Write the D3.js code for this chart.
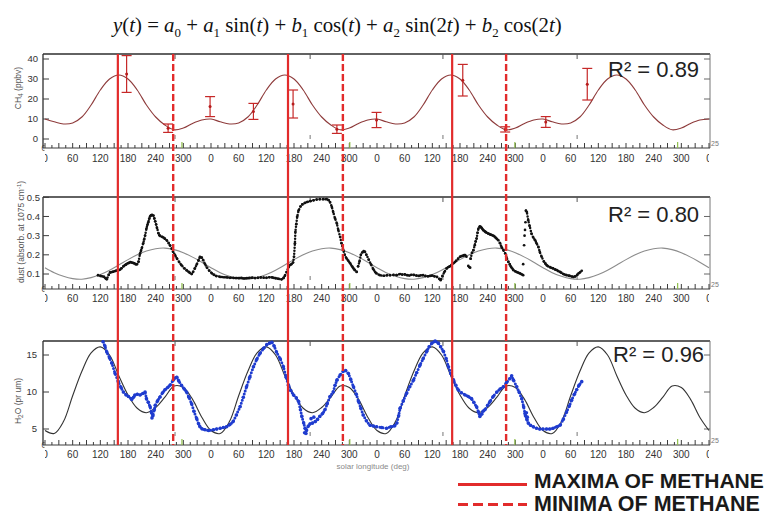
<!DOCTYPE html>
<html>
<head>
<meta charset="utf-8">
<script src="https://cdn.jsdelivr.net/npm/d3@7"></script>
<style>
  html, body { margin: 0; padding: 0; background: #fff; }
  svg { display: block; }
  text { font-family: "Liberation Sans", Arial, sans-serif; }
</style>
</head>
<body>
<svg id="chart" width="770" height="515"></svg>
<script>
// ---------- data (solar longitude Ls in degrees, counted over four Mars years) ----------
const xTickLs = d3.range(0, 1441, 60);

// one Mars year of each two-harmonic fit, sampled every 20 deg of Ls
const fitLs   = d3.range(0, 361, 20);
const ch4Fit  = [10, 8.6, 7.5, 8.0, 11, 17, 24.5, 30, 32, 30, 24.5, 17, 11, 7, 4.6, 5.5, 7.8, 9.5, 10];
const dustFit = [0.133, 0.107, 0.088, 0.076, 0.073, 0.081, 0.097, 0.120, 0.147, 0.175, 0.200, 0.220, 0.232, 0.235, 0.227, 0.211, 0.188, 0.161, 0.133];
const h2oFit  = [4.8, 4.4, 6.0, 9.5, 12.8, 15.3, 16.1, 15.0, 12.2, 9.6, 7.8, 7.2, 7.9, 9.3, 10.8, 10.6, 9.0, 6.6, 4.8];

// methane measurements (ppbv) with their uncertainties
const ch4Ls  = [177, 267, 358, 452, 538, 633, 719, 906, 998, 1086, 1176];
const ch4Val = [32.5, 5.4, 16.2, 13.8, 17.5, 4.9, 9.5, 29.4, 4.8, 8.5, 27.4];
const ch4Err = [9.2, 2.1, 5.0, 4.0, 7.0, 2.1, 3.8, 7.9, 1.3, 2.7, 7.9];

// Ls of the fitted methane maxima and minima
const methaneMaxLs = [158, 527, 883];
const methaneMinLs = [278, 646, 1000];

// dust opacity (absorbance at 1075 cm-1); null separates observing periods
const dustObs = [
  [115,0.094],[120,0.09],[124,0.088],[128,0.085],[131,0.078],[134,0.072],[138,0.095],[141,0.108],[145,0.11],[148,0.112],
  [152,0.115],[155,0.118],[159,0.12],[163,0.123],[166,0.13],[170,0.14],[173,0.146],[176,0.15],[179,0.155],[182,0.158],
  [185,0.162],[188,0.16],[191,0.158],[194,0.155],[197,0.15],[200,0.152],[203,0.165],[206,0.205],[208,0.22],[210,0.235],
  [213,0.26],[215,0.28],[217,0.3],[220,0.337],[222,0.355],[224,0.37],[226,0.388],[228,0.401],[230,0.406],[232,0.408],
  [235,0.405],[237,0.39],[239,0.375],[241,0.358],[243,0.34],[246,0.312],[248,0.302],[250,0.298],[254,0.294],[257,0.29],
  [260,0.284],[264,0.276],[268,0.262],[271,0.25],[275,0.232],[278,0.215],[282,0.198],[286,0.181],[291,0.162],[296,0.146],
  [302,0.13],[307,0.12],[311,0.112],[314,0.106],[318,0.1],[321,0.11],[325,0.129],[329,0.15],[333,0.172],[336,0.19],
  [340,0.185],[343,0.172],[347,0.152],[351,0.134],[356,0.118],[362,0.103],[367,0.095],[372,0.089],[380,0.085],[387,0.083],
  [394,0.082],[401,0.08],[408,0.08],[414,0.079],[420,0.078],[426,0.08],[432,0.077],[438,0.079],[444,0.08],[450,0.081],
  [456,0.079],[462,0.08],[468,0.082],[474,0.081],[480,0.08],[486,0.083],[492,0.082],[496,0.08],[500,0.078],[504,0.076],
  [508,0.074],[513,0.072],[517,0.078],[520,0.09],[524,0.11],[528,0.135],[531,0.146],[535,0.152],[538,0.16],[540,0.19],
  [542,0.26],[543,0.32],[545,0.36],[547,0.4],[550,0.432],[554,0.452],[558,0.463],[563,0.47],[568,0.475],[575,0.48],
  [582,0.484],[589,0.488],[596,0.49],[604,0.49],[611,0.49],[615,0.485],[618,0.475],[622,0.45],[625,0.423],[629,0.39],
  [633,0.363],[636,0.33],[640,0.293],[643,0.26],[647,0.224],[650,0.2],[654,0.181],[658,0.168],[662,0.155],[666,0.14],
  [669,0.129],[672,0.12],[676,0.111],
  null,
  [679,0.14],[682,0.165],[685,0.2],[688,0.212],[691,0.22],[694,0.215],[697,0.2],[702,0.175],[707,0.15],[712,0.125],
  [716,0.11],[719,0.103],[726,0.094],[734,0.091],[741,0.093],[748,0.094],[756,0.095],[763,0.094],[770,0.1],[775,0.097],
  [780,0.098],[785,0.094],[790,0.092],[795,0.096],[800,0.095],[805,0.092],[810,0.09],[815,0.093],[820,0.094],[825,0.09],
  [830,0.088],[835,0.09],[840,0.092],[845,0.088],[850,0.085],[855,0.075],[858,0.068],[862,0.09],[866,0.11],[871,0.129],
  [874,0.135],[878,0.14],[882,0.148],[885,0.155],[889,0.162],[892,0.17],[896,0.18],[900,0.19],[903,0.193],[906,0.195],
  [909,0.198],[911,0.198],[914,0.19],
  null,
  [923,0.18],[926,0.21],[929,0.224],[932,0.25],[934,0.27],[936,0.285],[938,0.315],[940,0.337],[943,0.348],[945,0.346],
  [947,0.34],[949,0.334],[951,0.328],[954,0.322],[956,0.318],[958,0.315],[961,0.311],[964,0.308],[966,0.305],[969,0.303],
  [972,0.3],[975,0.295],[977,0.29],[980,0.283],[983,0.276],[987,0.26],[990,0.241],[994,0.225],[998,0.207],[1001,0.185],
  [1005,0.163],[1008,0.15],[1010,0.14],[1013,0.13],[1016,0.12],[1020,0.114],[1023,0.11],[1027,0.106],[1030,0.103],[1034,0.098],
  [1037,0.094],
  null,
  [1043,0.43],[1045,0.423],[1048,0.38],[1051,0.35],[1055,0.311],[1059,0.29],[1063,0.276],[1066,0.26],[1070,0.241],[1073,0.215],
  [1077,0.19],[1082,0.165],[1085,0.155],[1088,0.146],[1091,0.14],[1095,0.136],[1098,0.132],[1102,0.129],[1106,0.124],[1110,0.12],
  [1113,0.115],[1117,0.111],[1120,0.106],[1124,0.1],[1127,0.097],[1131,0.094],[1135,0.092],[1138,0.09],[1142,0.087],[1146,0.085],
  [1150,0.088],[1154,0.095],[1157,0.103],[1161,0.11],[1164,0.117]
];
const dustStray = [[918,0.142],[920,0.136],[922,0.133],[1037,0.151],[1039,0.25],[1040,0.3],[1041,0.33],[1042,0.37]];

// water vapour column (pr um)
const h2oObs = [
  [126,16.8],[130,16.2],[134,15.4],[140,14.6],[145,13.9],[152,12.5],[159,11.4],[165,10.6],[170,10.0],[176,9.6],
  [181,9.4],[188,9.0],[192,9.3],[195,9.6],[200,9.7],[206,9.6],[212,9.8],[217,10.0],[220,9.1],[224,8.6],
  [228,8.0],[231,7.2],[234,6.8],[237,7.6],[239,8.2],[244,8.8],[249,9.3],[255,9.9],[260,10.3],[266,10.6],
  [271,10.9],[278,11.6],[282,11.9],[286,12.0],[290,11.5],[296,10.9],[302,10.4],[307,10.0],[312,9.3],[318,8.4],
  [323,7.4],[329,6.4],[333,5.7],[336,5.3],[341,5.0],[347,4.9],[355,4.8],[365,4.9],[372,5.0],[380,5.1],
  [387,5.2],[394,5.3],[401,5.6],[408,6.0],[415,6.9],[423,8.0],[430,9.3],[437,10.7],[444,12.0],[452,13.4],
  [459,14.4],[466,15.2],[474,15.9],[481,16.4],[487,16.6],[492,16.7],[497,16.2],[502,15.4],[510,14.5],[517,13.4],
  [523,12.0],[528,10.9],[533,10.2],[539,9.6],[545,9.2],[550,8.7],[554,7.6],[557,6.7],[561,5.8],[564,5.1],
  [567,4.8],[571,5.4],[575,5.7],[580,5.8],[586,6.0],[591,6.3],[596,6.7],[602,7.1],[607,7.6],[612,8.4],
  [618,9.4],[625,10.0],[629,10.9],[633,11.6],[640,12.3],[647,12.8],[652,12.9],[658,12.5],[663,11.7],[669,10.7],
  [675,9.7],[680,8.7],[685,7.8],[690,6.9],[697,6.1],[705,5.5],[712,5.4],[719,5.3],[730,5.2],[741,5.1],
  [750,5.3],[758,5.4],[763,5.8],[767,6.8],[770,7.8],[777,8.8],[784,9.8],[791,10.7],[799,11.6],[806,12.6],
  [813,13.6],[820,14.5],[828,15.5],[833,16.1],[839,16.6],[846,16.9],[853,16.6],[858,16.1],[864,15.5],[870,14.5],
  [875,13.4],[880,12.5],[886,11.6],[891,10.9],[896,10.3],[903,9.9],[911,9.6],[918,9.4],[925,9.1],[930,8.6],
  [936,8.0],[940,7.3],[943,6.7],[947,7.0],[950,7.4],[954,7.6],[960,8.2],[965,8.7],[972,9.4],[980,10.0],
  [987,10.4],[994,10.7],[1001,11.3],[1008,11.8],[1012,12.2],[1016,11.6],[1023,10.7],[1028,10.0],[1034,9.1],[1038,8.0],
  [1041,7.1],[1045,6.3],[1048,5.8],[1053,5.5],[1059,5.3],[1066,5.1],[1073,5.0],[1080,5.0],[1088,5.0],[1095,5.0],
  [1102,5.1],[1110,5.3],[1117,5.5],[1124,6.3],[1131,7.3],[1137,8.1],[1142,8.9],[1148,9.7],[1153,10.3],[1158,10.9],
  [1164,11.4]
];
const h2oStray = [[232,6.5],[563,4.5],[566,4.4],[1042,6.8],[1044,7.2],[1046,6.6],[577,6.4],[583,6.6]];

// goodness of fit for each panel
const rSquared = [0.89, 0.80, 0.96];

// small secondary marks along the frames
const frameMarkLs = [282, 575, 863, 1154];
const greenMarkLs = [297, 661, 1019, 1372];

// legend entries
const legendLabels = ["MAXIMA OF METHANE", "MINIMA OF METHANE"];

// ---------- layout ----------
const svg = d3.select("#chart");
const RED = "#e22b2b";
const AXIS = "#3c3c3c";
const x = d3.scaleLinear().domain([0, 1440]).range([45, 709]);
const boxL = 43, boxR = 710;

const panels = [
  { top: 54,  bottom: 148, yDomain: [0, 40],     yRange: [139, 59],    labelDy: 13.5,
    ticks: [0, 10, 20, 30, 40], rightTicks: [10, 20, 30, 40], fmt: d => d, tickLabelX: 38,
    r2x: 608, r2y: 77, titleX: 21, titleY: 88 },
  { top: 197, bottom: 289, yDomain: [0.1, 0.5], yRange: [274, 197.3], labelDy: 13,
    ticks: [0.1, 0.2, 0.3, 0.4, 0.5], rightTicks: [0.1, 0.2, 0.3, 0.4], fmt: d3.format(".1f"), tickLabelX: 40,
    r2x: 608, r2y: 222, titleX: 24, titleY: 232 },
  { top: 341, bottom: 445, yDomain: [5, 15],    yRange: [429, 355],   labelDy: 13,
    ticks: [5, 10, 15], rightTicks: [5, 10, 15], fmt: d => d, tickLabelX: 37,
    r2x: 613, r2y: 362, titleX: 21, titleY: 401 }
];
panels.forEach(p => { p.y = d3.scaleLinear().domain(p.yDomain).range(p.yRange); });

// repeat one fitted year across the four years on the axis
function tileYear(vals) {
  const pts = [];
  for (let k = 0; k < 4; k++) {
    fitLs.forEach((ls, i) => {
      if (i === fitLs.length - 1 && k < 3) return;
      pts.push([k * 360 + ls, vals[i]]);
    });
  }
  return pts;
}

const defs = svg.append("defs");
defs.append("clipPath").attr("id", "xlabClip")
  .append("rect").attr("x", 45).attr("y", 0).attr("width", 664).attr("height", 515);
defs.append("clipPath").attr("id", "cornerClip")
  .append("rect").attr("x", 0).attr("y", 0).attr("width", 44.5).attr("height", 515);
defs.append("clipPath").attr("id", "xTitleClip")
  .append("rect").attr("x", 0).attr("y", 464).attr("width", 770).attr("height", 51);

// ---------- title: the fitted function ----------
const titleParts = [
  ["y", "i"], ["(", ""], ["t", "i"], [") = ", ""], ["a", "i"], ["0", "s"], [" + ", ""],
  ["a", "i"], ["1", "s"], [" sin(", ""], ["t", "i"], [") + ", ""],
  ["b", "i"], ["1", "s"], [" cos(", ""], ["t", "i"], [") + ", ""],
  ["a", "i"], ["2", "s"], [" sin(2", ""], ["t", "i"], [") + ", ""],
  ["b", "i"], ["2", "s"], [" cos(2", ""], ["t", "i"], [")", ""]
];
const title = svg.append("text")
  .attr("x", 113).attr("y", 32)
  .style("font-family", "'Liberation Serif', 'Times New Roman', serif")
  .attr("font-size", 22).attr("fill", "#111");
let shifted = false;
titleParts.forEach(([t, k]) => {
  const ts = title.append("tspan").text(t).style("white-space", "pre");
  if (k === "i") ts.attr("font-style", "italic");
  if (k === "s") { ts.attr("font-size", "0.62em").attr("dy", 5); shifted = true; }
  else if (shifted) { ts.attr("dy", -5); shifted = false; }
});
{
  const w = title.node().getComputedTextLength();
  title.attr("font-size", 22 * 449 / w);
}

// ---------- panels ----------
const fits = [tileYear(ch4Fit), tileYear(dustFit), tileYear(h2oFit)];
const fitColors = ["#8e3b3b", "#8c8c8c", "#333333"];
const yTitles = [
  [["CH", ""], ["4", "sub"], [" (ppbv)", ""]],
  [["dust (absorb. at 1075 cm", ""], ["-1", "sup"], [")", ""]],
  [["H", ""], ["2", "sub"], ["O (pr um)", ""]]
];

panels.forEach((p, i) => {
  const g = svg.append("g");
  const y = p.y;

  // frame
  g.append("line").attr("x1", boxL).attr("x2", boxR).attr("y1", p.top).attr("y2", p.top)
    .attr("stroke", "#2e2e2e").attr("stroke-width", 1.4);
  g.append("line").attr("x1", boxL).attr("x2", boxL).attr("y1", p.top).attr("y2", p.bottom)
    .attr("stroke", "#2e2e2e").attr("stroke-width", 1.3);
  g.append("line").attr("x1", boxR).attr("x2", boxR).attr("y1", p.top).attr("y2", p.bottom)
    .attr("stroke", "#777").attr("stroke-width", 1);
  g.append("line").attr("x1", boxL).attr("x2", boxR).attr("y1", p.bottom).attr("y2", p.bottom)
    .attr("stroke", AXIS).attr("stroke-width", 1);

  // bottom axis ticks and labels
  g.selectAll(".xt").data(d3.range(0, 1441, 15)).join("line")
    .attr("x1", d => x(d)).attr("x2", d => x(d))
    .attr("y1", p.bottom).attr("y2", d => p.bottom - (d % 30 === 0 ? 5 : 3))
    .attr("stroke", AXIS).attr("stroke-width", 1);
  g.append("g").attr("clip-path", "url(#xlabClip)")
    .selectAll("text").data(xTickLs).join("text")
    .attr("x", d => x(d)).attr("y", p.bottom + p.labelDy)
    .attr("text-anchor", "middle").attr("font-size", 10).attr("fill", "#333")
    .text(d => d % 360);
  g.append("text").attr("clip-path", "url(#cornerClip)")
    .attr("x", 44).attr("y", p.bottom + 3).attr("text-anchor", "middle")
    .attr("font-size", 9).attr("fill", "#444").text("0");
  g.append("text").attr("x", 711).attr("y", p.bottom - 2)
    .attr("font-size", 7).attr("fill", "#777").text("25");

  // secondary frame marks
  g.selectAll(".fm").data(frameMarkLs).join("line")
    .attr("x1", d => x(d)).attr("x2", d => x(d)).attr("y1", p.top).attr("y2", p.top + 5)
    .attr("stroke", "#555").attr("stroke-width", 1);
  g.selectAll(".fb").data(frameMarkLs).join("line")
    .attr("x1", d => x(d)).attr("x2", d => x(d)).attr("y1", p.bottom - 9).attr("y2", p.bottom - 13)
    .attr("stroke", "#777").attr("stroke-width", 1);
  g.selectAll(".gm").data(greenMarkLs).join("line")
    .attr("x1", d => x(d)).attr("x2", d => x(d)).attr("y1", p.bottom).attr("y2", p.bottom - 6)
    .attr("stroke", "#8fbf4a").attr("stroke-width", 1.2);

  // left axis
  g.selectAll(".yt").data(p.ticks).join("line")
    .attr("x1", boxL).attr("x2", boxL + 6).attr("y1", d => y(d)).attr("y2", d => y(d))
    .attr("stroke", AXIS).attr("stroke-width", 1);
  g.selectAll(".yl").data(p.ticks).join("text")
    .attr("x", p.tickLabelX).attr("y", d => y(d)).attr("dy", "0.35em")
    .attr("text-anchor", "end").attr("font-size", 9.5).attr("fill", "#333")
    .text(p.fmt);
  // right axis
  g.selectAll(".yr").data(p.rightTicks).join("line")
    .attr("x1", boxR).attr("x2", boxR - 6).attr("y1", d => y(d)).attr("y2", d => y(d))
    .attr("stroke", "#666").attr("stroke-width", 1);

  // axis title
  const tt = g.append("text")
    .attr("transform", `translate(${p.titleX},${p.titleY}) rotate(-90)`)
    .attr("text-anchor", "middle").attr("font-size", 8.5).attr("fill", "#555");
  let sh = 0;
  yTitles[i].forEach(([t, k]) => {
    const ts = tt.append("tspan").text(t).style("white-space", "pre");
    if (k === "sub") { ts.attr("font-size", 6.5).attr("dy", 2); sh = 2; }
    else if (k === "sup") { ts.attr("font-size", 6).attr("dy", -3); sh = -3; }
    else if (sh) { ts.attr("dy", -sh); sh = 0; }
  });

  // fitted curve
  g.append("path").datum(fits[i])
    .attr("d", d3.line().x(d => x(d[0])).y(d => y(d[1])).curve(d3.curveCatmullRom.alpha(0.5)))
    .attr("fill", "none").attr("stroke", fitColors[i]).attr("stroke-width", 1.1);

  // goodness of fit
  g.append("text").attr("x", p.r2x).attr("y", p.r2y)
    .attr("font-size", 22).attr("fill", "#222")
    .text("R\u00B2 = " + rSquared[i].toFixed(2));
});

// ---------- methane measurements ----------
{
  const p = panels[0], y = p.y;
  const ch4 = ch4Ls.map((ls, i) => ({ ls, v: ch4Val[i], e: ch4Err[i] }));
  const gb = svg.append("g").attr("stroke", "#c62828").attr("stroke-width", 1.2);
  gb.selectAll(".v").data(ch4).join("line")
    .attr("x1", d => x(d.ls)).attr("x2", d => x(d.ls))
    .attr("y1", d => y(d.v - d.e)).attr("y2", d => y(d.v + d.e));
  gb.selectAll(".ct").data(ch4).join("line")
    .attr("x1", d => x(d.ls) - 5).attr("x2", d => x(d.ls) + 5)
    .attr("y1", d => y(d.v + d.e)).attr("y2", d => y(d.v + d.e));
  gb.selectAll(".cb").data(ch4).join("line")
    .attr("x1", d => x(d.ls) - 5).attr("x2", d => x(d.ls) + 5)
    .attr("y1", d => y(d.v - d.e)).attr("y2", d => y(d.v - d.e));
  svg.append("g").selectAll("circle").data(ch4).join("circle")
    .attr("cx", d => x(d.ls)).attr("cy", d => y(d.v)).attr("r", 1.5).attr("fill", "#b71c1c");
}

// ---------- scatter tracks ----------
function track(rows, stray, y, color, w, gap, r) {
  const g = svg.append("g");
  g.append("path").datum(rows)
    .attr("d", d3.line().defined(d => d !== null).x(d => x(d[0])).y(d => y(d[1])))
    .attr("fill", "none").attr("stroke", color).attr("stroke-width", w)
    .attr("stroke-linecap", "round").attr("stroke-dasharray", `0 ${gap}`);
  g.selectAll("circle").data(rows.filter(d => d !== null).concat(stray)).join("circle")
    .attr("cx", d => x(d[0])).attr("cy", d => y(d[1])).attr("r", r).attr("fill", color);
}
track(dustObs, dustStray, panels[1].y, "#111", 2.5, 3, 1.35);
track(h2oObs, h2oStray, panels[2].y, "#1f3ccf", 3.0, 3.2, 1.8);

// ---------- methane maxima / minima markers ----------
const yTopLine = panels[0].top, yBotLine = panels[2].bottom;
svg.append("g").selectAll("line").data(methaneMaxLs).join("line")
  .attr("x1", d => x(d)).attr("x2", d => x(d)).attr("y1", yTopLine).attr("y2", yBotLine)
  .attr("stroke", RED).attr("stroke-width", 2.2);
svg.append("g").selectAll("line").data(methaneMinLs).join("line")
  .attr("x1", d => x(d)).attr("x2", d => x(d)).attr("y1", yTopLine).attr("y2", yBotLine)
  .attr("stroke", RED).attr("stroke-width", 2.4).attr("stroke-dasharray", "7 3");

// x-axis title
svg.append("text").attr("clip-path", "url(#xTitleClip)")
  .attr("x", 373).attr("y", 469).attr("text-anchor", "middle")
  .attr("font-size", 8).attr("fill", "#8a8a8a").text("solar longitude (deg)");

// ---------- legend ----------
const legend = svg.append("g");
const legendRows = [
  { label: legendLabels[0], lineY: 484.5, textY: 488, width: 230, dash: null },
  { label: legendLabels[1], lineY: 504.5, textY: 511, width: 226, dash: "10 5" }
];
legendRows.forEach(r => {
  const ln = legend.append("line").attr("x1", 458).attr("x2", 527)
    .attr("y1", r.lineY).attr("y2", r.lineY)
    .attr("stroke", RED).attr("stroke-width", 3);
  if (r.dash) ln.attr("stroke-dasharray", r.dash);
  const t = legend.append("text").attr("x", 534).attr("y", r.textY)
    .attr("font-size", 22).attr("font-weight", "bold").attr("fill", "#1a1a1a")
    .text(r.label);
  // size the label so that it spans the wanted width
  const w = t.node().getComputedTextLength();
  t.attr("font-size", 22 * r.width / w);
});
</script>
</body>
</html>
